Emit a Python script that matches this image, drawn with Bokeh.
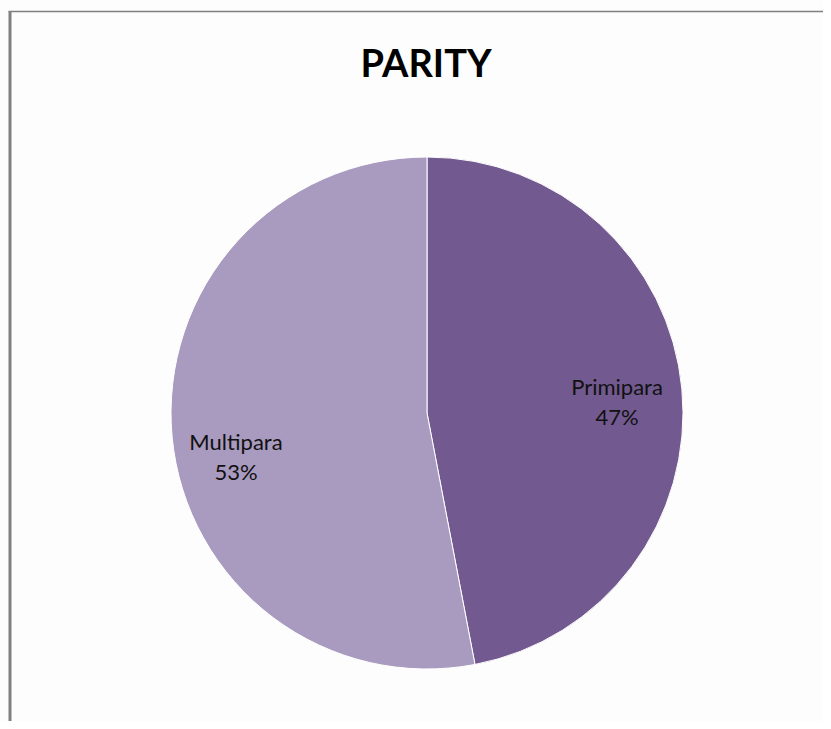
import numpy as np
from bokeh.plotting import figure
from bokeh.models import Range1d, ColumnDataSource
from bokeh.core.properties import value
from bokeh.embed import file_html
from bokeh.resources import INLINE

# ---- data ----
categories = ["Primipara", "Multipara"]
shares = [47, 53]
colors = ["#72598F", "#A99ABF"]
title_text = "PARITY"

# ---- layout (data units = page pixels, y measured upward from H) ----
W, H = 823, 721
def py(page_y):
    return H - page_y

cx, cy = 426.5, py(412.5)
R = 256
label_offsets = [(190, 12), (-191, -43)]   # label centre offsets from pie centre
line_gap = 15

p = figure(width=W, height=H, output_backend="svg", toolbar_location=None,
           x_range=Range1d(0, W), y_range=Range1d(0, H), min_border=0)
p.axis.visible = False
p.grid.visible = False
p.outline_line_color = None
p.background_fill_color = "#FDFDFD"
p.border_fill_color = "white"

total = float(sum(shares))
frac = np.array(shares) / total
cum = np.concatenate([[0], np.cumsum(frac)])
start = np.pi / 2 - cum[:-1] * 2 * np.pi
end = np.pi / 2 - cum[1:] * 2 * np.pi

src = ColumnDataSource(dict(cat=categories, start=start, end=end, color=colors))
p.wedge(x=cx, y=cy, radius=R, start_angle="start", end_angle="end",
        direction="clock", fill_color="color", line_color="white", line_width=1,
        source=src)

lab_x = [cx + dx for dx, dy in label_offsets]
lab_y = [cy + dy for dx, dy in label_offsets]
pct = ["%d%%" % round(f * 100) for f in frac]
p.text(x=lab_x, y=[y + line_gap for y in lab_y], text=categories, text_align="center",
       text_baseline="middle", text_font=value("Lato"), text_font_size="22px",
       text_color="#111111")
p.text(x=lab_x, y=[y - line_gap for y in lab_y], text=pct, text_align="center",
       text_baseline="middle", text_font=value("Lato"), text_font_size="22px",
       text_color="#111111")

p.text(x=[425.5], y=[py(61)], text=[title_text], text_align="center",
       text_baseline="middle", text_font=value("Lato"), text_font_size="38px",
       text_font_style="bold", text_color="black")

# frame lines (top and left)
p.segment(x0=[8, 9.5], y0=[py(11), py(11)], x1=[W, 9.5], y1=[py(11), 0],
          line_color="#808080", line_width=[1.5, 3])

open("out.html", "w").write(file_html(p, INLINE))
